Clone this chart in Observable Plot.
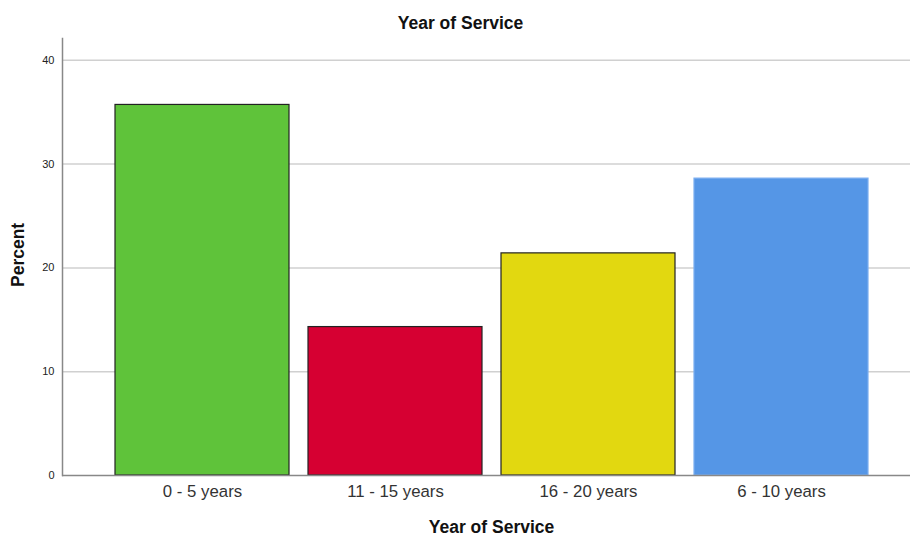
<!DOCTYPE html>
<html><head><meta charset="utf-8">
<script src="https://cdn.jsdelivr.net/npm/d3@7"></script>
<script src="https://cdn.jsdelivr.net/npm/@observablehq/plot@0.6"></script>
<style>body{margin:0;background:#fff;font-family:"Liberation Sans",Arial,sans-serif}</style>
</head><body><div id="chart"></div>
<script>
const categories = ["0 - 5 years", "11 - 15 years", "16 - 20 years", "6 - 10 years"];
const percents = [35.7, 14.3, 21.4, 28.6];
const fills = ["#5fc33a", "#d60032", "#e2d810", "#5596e6"];
const strokes = ["#222", "#222", "#222", "#7aaef0"];
const yTicks = [0, 10, 20, 30, 40];
const title = "Year of Service";
const xLabel = "Year of Service";
const yLabel = "Percent";

const data = categories.map((c, i) => ({cat: c, pct: percents[i], fill: fills[i], stroke: strokes[i]}));

const chart = Plot.plot({
  width: 910, height: 536,
  marginTop: 38, marginBottom: 61, marginLeft: 62, marginRight: 0,
  style: {fontFamily: '"Liberation Sans", Arial, sans-serif', background: "#fff"},
  x: {domain: categories, range: [95, 888], paddingInner: 0.1, paddingOuter: 0.1, label: null},
  y: {domain: [0, 42.1], label: null},
  marks: [
    Plot.ruleY(yTicks.filter(d => d > 0), {stroke: "#d0d0d0", strokeWidth: 1.5}),
    Plot.barY(data, {x: "cat", y: "pct", fill: "fill", stroke: "stroke", strokeWidth: 1.2}),
    Plot.ruleY([0], {stroke: "#888", strokeWidth: 1.5}),
    Plot.frame({anchor: "left", stroke: "#888", strokeWidth: 1.5}),
    Plot.axisY(yTicks, {tickSize: 0, tickPadding: 8, fontSize: 11, fill: "#222", label: null}),
    Plot.axisX({tickSize: 0, tickPadding: 10, fontSize: 16.8, fill: "#333", label: null}),
    Plot.text([title], {frameAnchor: "top", dx: -26, dy: -22, fontSize: 17.5, fontWeight: "bold", fill: "#111"}),
    Plot.text([xLabel], {frameAnchor: "bottom", dx: 5, dy: 57, fontSize: 17.5, fontWeight: "bold", fill: "#111"}),
    Plot.text([yLabel], {frameAnchor: "left", dx: -44, dy: 30, rotate: -90, fontSize: 17.5, fontWeight: "bold", fill: "#111"})
  ]
});
document.getElementById("chart").append(chart);
</script></body></html>
